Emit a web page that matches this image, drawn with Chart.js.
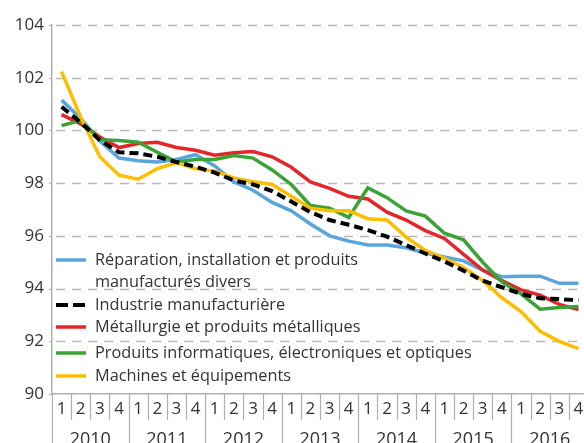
<!DOCTYPE html>
<html>
<head>
<meta charset="utf-8">
<script src="https://cdn.jsdelivr.net/npm/chart.js@4.4.1/dist/chart.umd.min.js"></script>
<style>
  html, body { margin: 0; padding: 0; background: #fff; overflow: hidden; }
  #wrap { width: 590px; height: 443px; }
</style>
</head>
<body>
<div id="wrap"><canvas id="chart" width="590" height="443"></canvas></div>
<script>
// Trimestres / années
const quarters = [
  "1", "2", "3", "4", "1", "2", "3", "4", "1", "2", "3", "4", "1", "2",
  "3", "4", "1", "2", "3", "4", "1", "2", "3", "4", "1", "2", "3", "4"
];
const years = ["2010", "2011", "2012", "2013", "2014", "2015", "2016"];
const yTicks = [90, 92, 94, 96, 98, 100, 102, 104];

// Séries
const reparation = [
  101.15, 100.45, 99.6, 98.95, 98.85, 98.8, 98.9, 99.08, 98.65, 98.05,
  97.73, 97.27, 96.95, 96.45, 96.0, 95.8, 95.65, 95.65, 95.55, 95.35,
  95.2, 95.05, 94.7, 94.45, 94.47, 94.47, 94.2, 94.2
];
const industrie = [
  100.9, 100.3, 99.63, 99.17, 99.13, 99.0, 98.8, 98.62, 98.4, 98.1,
  97.95, 97.7, 97.3, 96.9, 96.6, 96.42, 96.22, 95.97, 95.65, 95.33,
  95.03, 94.68, 94.3, 94.05, 93.8, 93.63, 93.6, 93.56
];
const metallurgie = [
  100.6, 100.25, 99.75, 99.35, 99.5, 99.55, 99.35, 99.25, 99.06, 99.15,
  99.2, 99.0, 98.6, 98.05, 97.8, 97.5, 97.4, 96.9, 96.6, 96.2,
  95.9, 95.3, 94.7, 94.3, 93.95, 93.75, 93.4, 93.2
];
const informatique = [
  100.18, 100.38, 99.65, 99.62, 99.55, 99.17, 98.8, 98.9, 98.9, 99.05,
  98.95, 98.5, 97.95, 97.15, 97.05, 96.7, 97.82, 97.45, 96.95, 96.75,
  96.1, 95.85, 95.0, 94.25, 93.8, 93.22, 93.28, 93.32
];
const machines = [
  102.23, 100.5, 99.0, 98.3, 98.15, 98.55, 98.77, 98.55, 98.45, 98.2,
  98.05, 97.95, 97.5, 97.05, 96.95, 96.95, 96.65, 96.6, 95.95, 95.45,
  95.15, 94.8, 94.3, 93.65, 93.13, 92.38, 92.0, 91.72
];

const FONT = "'Open Sans', sans-serif";
const TEXT = "#333333";
const AXIS = "#b0b0b0";

const series = [
  { label: ["Réparation, installation et produits", "manufacturés divers"], data: reparation, color: "#5aa5db", dash: [], width: 3.5, order: 5 },
  { label: ["Industrie manufacturière"], data: industrie, color: "#000000", dash: [9, 5], width: 4, order: 1 },
  { label: ["Métallurgie et produits métalliques"], data: metallurgie, color: "#e4262a", dash: [], width: 3.5, order: 4 },
  { label: ["Produits informatiques, électroniques et optiques"], data: informatique, color: "#3aa335", dash: [], width: 3.5, order: 3 },
  { label: ["Machines et équipements"], data: machines, color: "#fdbe00", dash: [], width: 3.5, order: 2 }
];

// rangées de la légende (y du trait)
const legendRows = [260, 305, 327, 353, 376];

// grille horizontale pointillée + petites graduations
const gridPlugin = {
  id: "dashGrid",
  beforeDatasetsDraw(chart) {
    const ctx = chart.ctx;
    const ys = chart.scales.y;
    const area = chart.chartArea;
    ctx.save();
    ctx.strokeStyle = "#b8b8b8";
    ctx.lineWidth = 1.3;
    yTicks.forEach(v => {
      const py = Math.round(ys.getPixelForValue(v)) + 0.5;
      ctx.setLineDash([]);
      ctx.beginPath();
      ctx.moveTo(area.left - 3, py);
      ctx.lineTo(area.left, py);
      ctx.stroke();
      if (v === ys.min) return;
      ctx.setLineDash([9, 7]);
      ctx.beginPath();
      ctx.moveTo(area.left + 4, py);
      ctx.lineTo(area.right, py);
      ctx.stroke();
    });
    ctx.restore();
  }
};

// légende dessinée dans la zone du graphique
const legendPlugin = {
  id: "insideLegend",
  afterDatasetsDraw(chart) {
    const ctx = chart.ctx;
    const x0 = chart.chartArea.left + 4;
    ctx.save();
    ctx.font = "16.3px " + FONT;
    ctx.fillStyle = TEXT;
    ctx.textBaseline = "middle";
    series.forEach((s, i) => {
      const y = legendRows[i];
      ctx.beginPath();
      ctx.strokeStyle = s.color;
      ctx.lineWidth = s.width;
      ctx.setLineDash(s.dash.length ? [12, 5] : []);
      ctx.moveTo(x0, y);
      ctx.lineTo(x0 + 30, y);
      ctx.stroke();
      ctx.setLineDash([]);
      s.label.forEach((line, k) => {
        ctx.fillText(line, x0 + 39, y + k * 22);
      });
    });
    ctx.restore();
  }
};

// séparateurs trimestres / années et libellés des années
const yearAxisPlugin = {
  id: "yearAxis",
  afterDraw(chart) {
    const ctx = chart.ctx;
    const xs = chart.scales.x;
    const step = xs.width / quarters.length;
    const top = xs.top;
    ctx.save();
    ctx.strokeStyle = AXIS;
    ctx.lineWidth = 1.2;
    for (let i = 0; i <= quarters.length; i++) {
      const px = Math.round(xs.getPixelForTick(Math.min(i, quarters.length - 1)) + (i < quarters.length ? -step / 2 : step / 2)) + 0.5;
      ctx.beginPath();
      ctx.moveTo(px, top);
      ctx.lineTo(px, i % 4 === 0 ? chart.height : top + 26);
      ctx.stroke();
    }
    ctx.font = "18px " + FONT;
    ctx.fillStyle = TEXT;
    ctx.textAlign = "center";
    ctx.textBaseline = "alphabetic";
    years.forEach((yr, k) => {
      const a = xs.getPixelForTick(k * 4) - step / 2;
      ctx.fillText(yr, a + step * 2, top + 51);
    });
    ctx.restore();
  }
};

new Chart(document.getElementById("chart"), {
  type: "line",
  data: {
    labels: quarters,
    datasets: series.map(s => ({
      label: s.label.join(" "),
      data: s.data,
      borderColor: s.color,
      borderWidth: s.width,
      borderDash: s.dash,
      pointRadius: 0,
      tension: 0,
      fill: false,
      order: s.order
    }))
  },
  options: {
    responsive: false,
    animation: false,
    devicePixelRatio: 1,
    layout: { padding: { top: 25, right: 2, left: 0, bottom: 0 } },
    plugins: {
      legend: { display: false },
      tooltip: { enabled: false }
    },
    scales: {
      x: {
        type: "category",
        offset: true,
        grid: { display: false, drawTicks: false },
        border: { display: true, color: AXIS, width: 1.5 },
        ticks: {
          autoSkip: false,
          maxRotation: 0,
          padding: 5,
          color: TEXT,
          font: { family: FONT, size: 17 }
        },
        afterFit(scale) { scale.height = 49; }
      },
      y: {
        min: 90,
        max: 104,
        afterBuildTicks(scale) { scale.ticks = yTicks.map(v => ({ value: v })); },
        grid: { display: false, drawTicks: false },
        border: { display: true, color: AXIS, width: 1.5 },
        ticks: {
          padding: 8,
          color: TEXT,
          font: { family: FONT, size: 17 }
        },
        afterFit(scale) { scale.width = 52; }
      }
    }
  },
  plugins: [gridPlugin, legendPlugin, yearAxisPlugin]
});
</script>
</body>
</html>
